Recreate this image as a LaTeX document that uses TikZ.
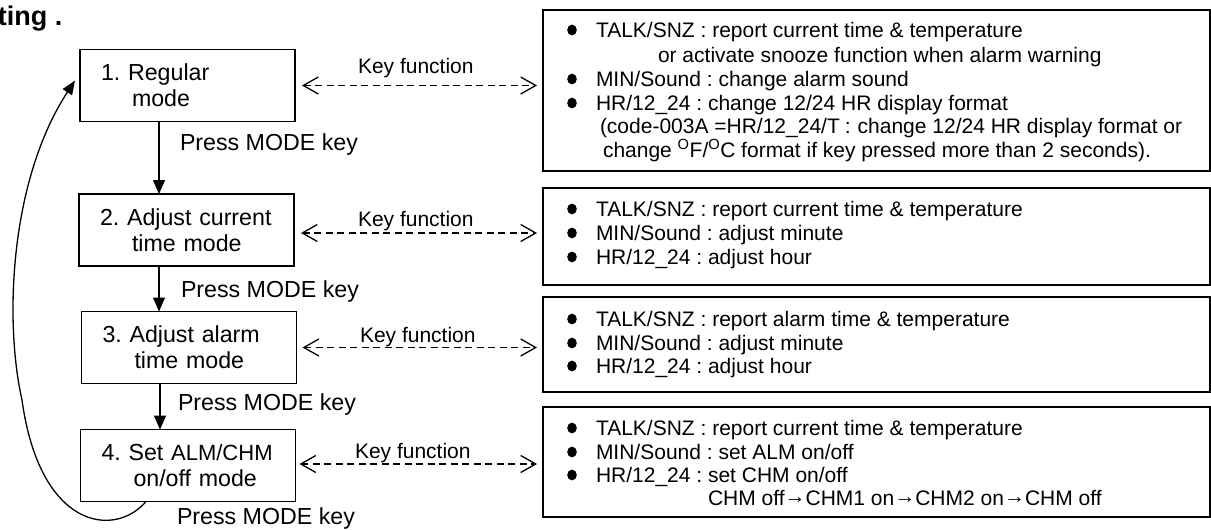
\documentclass[tikz,border=0pt]{standalone}
\usepackage{fontspec}
\setmainfont{Liberation Sans}
\usetikzlibrary{arrows.meta,calc}
\frenchspacing
\newcommand{\chmarrow}{\raisebox{2pt}{→}}
\begin{document}
\begin{tikzpicture}[x=1pt,y=-1pt,
  every node/.style={inner sep=0pt, outer sep=0pt},
  modebox/.style={draw, line width=1.6pt, minimum height=72pt, text width=173pt,
    inner xsep=21pt, align=left, font=\fontsize{23.2}{26}\selectfont},
  infobox/.style={draw, line width=1.6pt, minimum width=667pt},
  presslbl/.style={anchor=base west, font=\fontsize{23.2}{26}\selectfont},
  keylbl/.style={anchor=base west, font=\fontsize{21}{24}\selectfont},
  infotxt/.style={anchor=base west, font=\fontsize{21}{24}\selectfont},
  modearrow/.style={line width=1.4pt, -{Triangle[length=14pt,width=12pt]}},
  looparrow/.style={line width=1.3pt, -{Triangle[length=14pt,width=11pt]}},
  keyarrow/.style={line width=1.3pt, dash pattern=on 7pt off 4.5pt,
    {Straight Barb[length=15pt,width=17pt]}-{Straight Barb[length=15pt,width=17pt]}},
  bulletdot/.style={fill=black}
]
\useasboundingbox (0,0) rectangle (1211,530);

% title fragment
\node[anchor=base west, font=\bfseries\fontsize{27}{30}\selectfont] (title) at (-2,25) {ting .};

% mode boxes
\node[modebox] (b1) at (187.5,85.5) {1. Regular\\\hspace*{31pt}mode};
\node[modebox] (b2) at (186.5,230) {2. Adjust current\\\hspace*{32pt}time mode};
\node[modebox] (b3) at (189,347.5) {3. Adjust alarm\\\hspace*{32pt}time mode};
\node[modebox] (b4) at (188,465.5) {4. Set {\fontsize{22}{26}\selectfont ALM/CHM}\\\hspace*{32pt}on/off mode};

% info boxes
\node[infobox, minimum height=161pt] (r1) at (876.5,90.5) {};
\node[infobox, minimum height=97pt] (r2) at (876.5,236.5) {};
\node[infobox, minimum height=95pt] (r3) at (876.5,344.5) {};
\node[infobox, minimum height=110pt] (r4) at (876.5,462) {};

% mode arrows
\draw[modearrow] ([xshift=-28.5pt]b1.south) -- ([xshift=-28.5pt]b1.south |- b2.north);
\draw[modearrow] ([xshift=-27.5pt]b2.south) -- ([xshift=-27.5pt]b2.south |- b3.north);
\draw[modearrow] ([xshift=-29pt]b3.south) -- ([xshift=-29pt]b3.south |- b4.north);
\draw[looparrow] ([xshift=-42pt]b4.south) .. controls (115,538) and (40,530) .. (22,400)
  .. controls (4,320) and (10,180) .. ([xshift=-5pt,yshift=5pt]b1.west);

\node[presslbl] (p1) at (180,150) {Press MODE key};
\node[presslbl] (p2) at (181,297) {Press MODE key};
\node[presslbl] (p3) at (178,410) {Press MODE key};
\node[presslbl] (p4) at (177,524.5) {Press MODE key};

% key function arrows
\draw[keyarrow, shorten <=7pt, shorten >=6pt] (b1.east) -- (b1.east -| r1.west);
\draw[keyarrow, shorten <=7pt, shorten >=6pt] ([yshift=-3pt]b2.east) -- ([yshift=-3pt]b2.east -| r2.west);
\draw[keyarrow, shorten <=6pt, shorten >=6pt] (b3.east) -- (b3.east -| r3.west);
\draw[keyarrow, shorten <=4pt, shorten >=6pt] ([yshift=1.5pt]b4.east) -- ([yshift=1.5pt]b4.east -| r4.west);

\node[keylbl] (k1) at (358,73) {Key function};
\node[keylbl] (k2) at (358,226) {Key function};
\node[keylbl] (k3) at (360,342) {Key function};
\node[keylbl] (k4) at (355,458) {Key function};

% bullets
\foreach \yy in {30,79,103,209,233,257,319,343,366,428,452,475}
  \fill[bulletdot] (572,\yy) ellipse [x radius=4.8pt, y radius=5.4pt];

% info box 1
\node[infotxt] (t11) at (596,37) {TALK/SNZ : report current time \& temperature};
\node[infotxt] (t12) at (658,62) {or activate snooze function when alarm warning};
\node[infotxt] (t13) at (596,86) {MIN/Sound : change alarm sound};
\node[infotxt] (t14) at (596,110) {HR/12\_24 : change 12/24 HR display format};
\node[infotxt] (t15) at (600,133) {(code-003A =HR/12\_24/T\hspace{5pt}:\hspace{7pt}change 12/24 HR display format or};
\node[infotxt] (t16) at (603,157) {change \textsuperscript{O}F/\textsuperscript{O}C format if key pressed more than 2 seconds).};

% info box 2
\node[infotxt] (t21) at (596,216) {TALK/SNZ : report current time \& temperature};
\node[infotxt] (t22) at (596,240) {MIN/Sound : adjust minute};
\node[infotxt] (t23) at (596,264) {HR/12\_24 : adjust hour};

% info box 3
\node[infotxt] (t31) at (596,326) {TALK/SNZ : report alarm time \& temperature};
\node[infotxt] (t32) at (596,350) {MIN/Sound : adjust minute};
\node[infotxt] (t33) at (596,373) {HR/12\_24 : adjust hour};

% info box 4
\node[infotxt] (t41) at (596,435) {TALK/SNZ : report current time \& temperature};
\node[infotxt] (t42) at (596,459) {MIN/Sound : set ALM on/off};
\node[infotxt] (t43) at (596,482) {HR/12\_24 : set CHM on/off};
\node[infotxt] (t44) at (708,505) {CHM off\chmarrow CHM1 on\chmarrow CHM2 on\chmarrow CHM off};
\end{tikzpicture}
\end{document}
